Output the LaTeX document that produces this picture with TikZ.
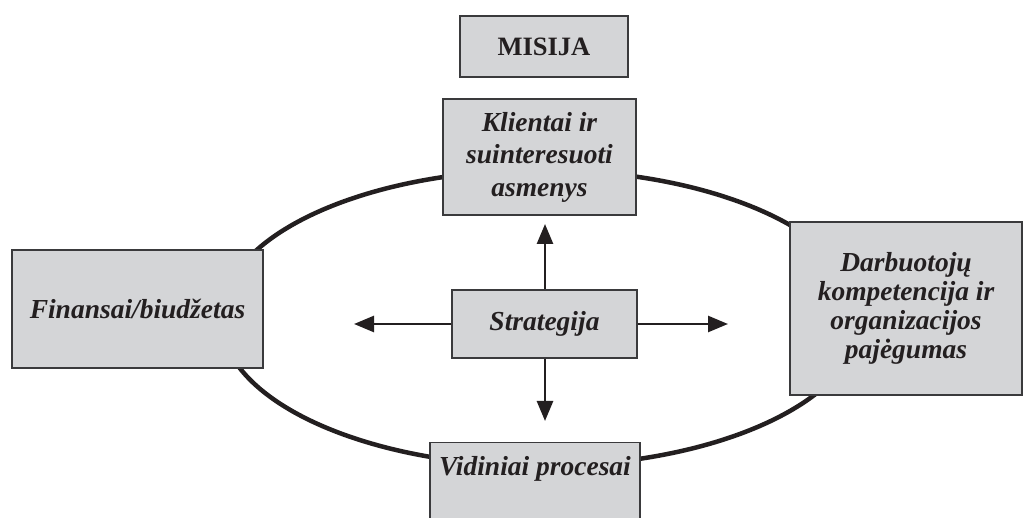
\documentclass[tikz,border=0pt]{standalone}
\usepackage{fontspec}
\setmainfont{Liberation Serif}
\usetikzlibrary{arrows.meta}
\definecolor{boxfill}{HTML}{D4D5D7}
\definecolor{boxline}{HTML}{3A3A3C}
\definecolor{ink}{HTML}{231F20}
\begin{document}
\begin{tikzpicture}[x=1pt,y=-1pt,
  box/.style={draw=boxline, line width=1.1pt, fill=boxfill, inner sep=0pt,
    align=center, font=\fontsize{27.5}{29}\selectfont\bfseries\itshape, text=ink},
  ring/.style={draw=ink, line width=4.5pt},
  arr/.style={draw=ink, line width=2.6pt, -{Triangle[length=20pt,width=16pt]}}]
\useasboundingbox (0,0) rectangle (1026,518);
\draw[ring] (541,318) ellipse [x radius=320pt, y radius=148pt];
\node[box, font=\fontsize{26.5}{28}\selectfont\bfseries, minimum width=168pt, minimum height=61pt] (mis) at (544,46.5) {MISIJA};
\node[box, font=\fontsize{27.5}{32.5}\selectfont\bfseries\itshape, minimum width=193pt, minimum height=116pt] (kli) at (539.5,157) {Klientai ir\\suinteresuoti\\asmenys};
\node[box, minimum width=251pt, minimum height=118pt] (fin) at (137.5,309) {Finansai/biudžetas};
\node[box, minimum width=232pt, minimum height=173pt] (dar) at (906,308.5) {Darbuotojų\\kompetencija ir\\organizacijos\\pajėgumas};
\node[box, minimum width=185pt, minimum height=68pt] (str) at (544.5,324) {Strategija};
\node[box, anchor=north, minimum width=210pt, inner ysep=14pt, text height=19pt, text depth=70pt] (vid) at (535,442) {Vidiniai procesai};
\coordinate (up) at (545,224);
\coordinate (down) at (545,421);
\coordinate (left) at (354,324);
\coordinate (right) at (728,324);
\draw[arr] (str.north -| up) -- (up);
\draw[arr] (str.south -| down) -- (down);
\draw[arr] (str.west) -- (left);
\draw[arr] (str.east) -- (right);
\end{tikzpicture}
\end{document}
